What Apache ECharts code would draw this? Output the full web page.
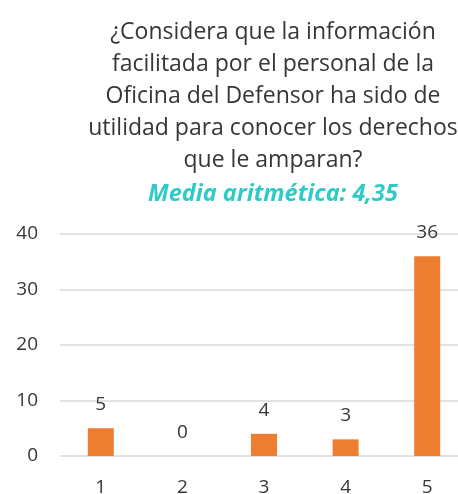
<!DOCTYPE html>
<html>
<head>
<meta charset="utf-8">
<script src="https://cdn.jsdelivr.net/npm/echarts@6/dist/echarts.min.js"></script>
<style>
  html, body { margin: 0; padding: 0; background: #fff; }
  #chart { width: 458px; height: 494px; }
</style>
</head>
<body>
<div id="chart"></div>
<script>
// datos
const categorias = ['1', '2', '3', '4', '5'];
const respuestas = [5, 0, 4, 3, 36];
const tituloLineas = [
  '¿Considera que la información',
  'facilitada por el personal de la',
  'Oficina del Defensor ha sido de',
  'utilidad para conocer los derechos',
  'que le amparan?'
];
const media = 'Media aritmética: 4,35';

const chart = echarts.init(document.getElementById('chart'));
const fuente = '"Open Sans", sans-serif';

let option = {
  animation: false,
  textStyle: { fontFamily: fuente },
  title: [
    {
      text: tituloLineas.join('\n'),
      left: 268,
      top: 11,
      textAlign: 'center',
      textStyle: {
        fontFamily: fuente,
        fontSize: 23,
        fontWeight: 'normal',
        color: '#363636',
        lineHeight: 32
      }
    },
    {
      text: media,
      left: 268,
      top: 173,
      textAlign: 'center',
      textStyle: {
        fontFamily: fuente,
        fontSize: 23.5,
        fontWeight: 'bold',
        fontStyle: 'italic',
        color: '#2ECBC6',
        lineHeight: 32
      }
    }
  ],
  grid: {
    left: 60,
    width: 408,
    top: 234,
    bottom: 38,
    outerBoundsMode: 'none'
  },
  xAxis: {
    type: 'category',
    data: categorias,
    axisLine: { show: false },
    axisTick: { show: false },
    axisLabel: { margin: 22, fontSize: 19, color: '#363636', fontFamily: fuente }
  },
  yAxis: {
    type: 'value',
    min: 0,
    max: 40,
    interval: 10,
    axisLabel: { margin: 22, fontSize: 19, color: '#363636', fontFamily: fuente },
    splitLine: { lineStyle: { color: '#d9d9d9', width: 1.5 } }
  },
  series: [
    {
      type: 'bar',
      data: respuestas,
      barWidth: 26,
      itemStyle: { color: '#ED7D31' },
      label: {
        show: true,
        position: 'top',
        distance: 14,
        fontSize: 19,
        color: '#363636',
        fontFamily: fuente
      }
    }
  ]
};

chart.setOption(option);
</script>
</body>
</html>
